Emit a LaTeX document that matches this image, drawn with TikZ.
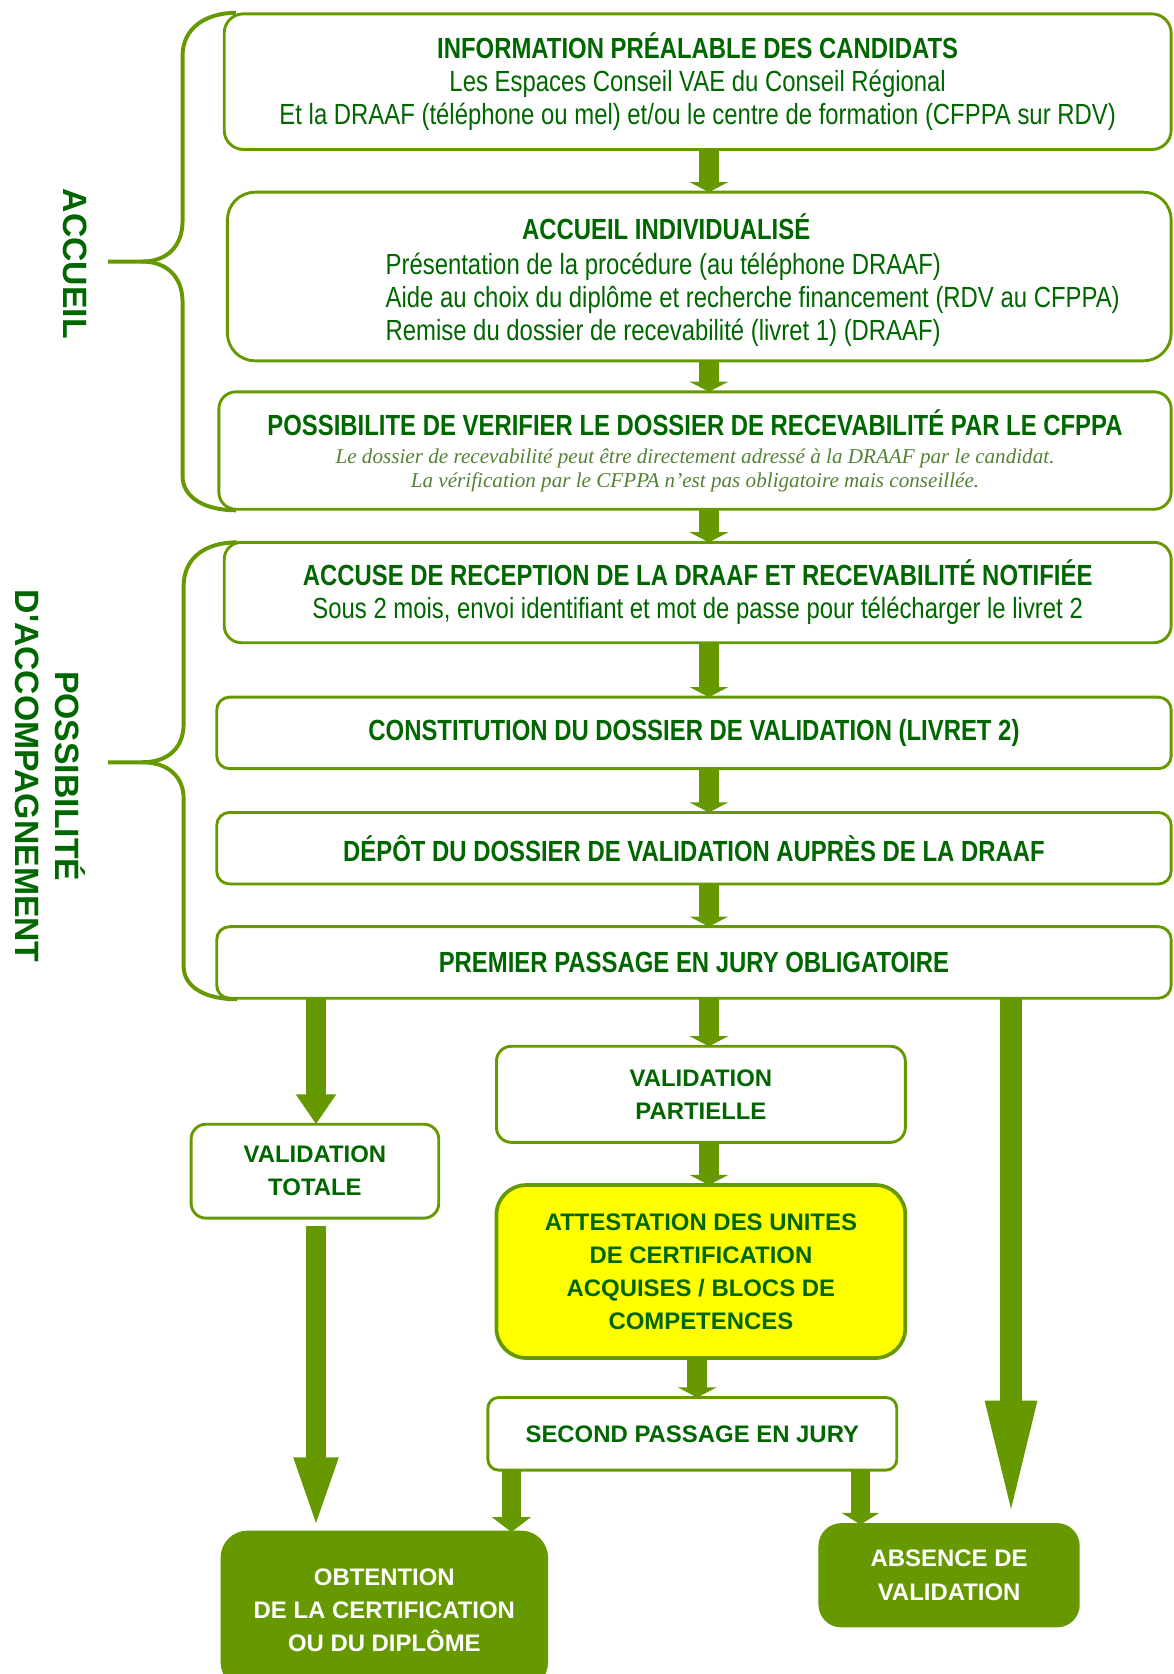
\documentclass[tikz,border=0pt]{standalone}
\usepackage{fontspec}
\setmainfont{Liberation Sans}
\newfontfamily\narrowfont{Liberation Sans}[FakeStretch=0.82]
\newfontfamily\notefont{Liberation Serif}
\usetikzlibrary{arrows.meta}
\definecolor{vaeolive}{RGB}{102,153,0}
\definecolor{vaedark}{RGB}{0,102,0}
\definecolor{vaenote}{RGB}{84,130,53}
\definecolor{vaeyellow}{RGB}{255,255,0}

\begin{document}
\begin{tikzpicture}[x=1pt,y=-1pt,
  boxtext/.style={text=vaedark, font=\narrowfont\fontsize{27.3}{31}\selectfont},
  box/.style={boxtext, draw=vaeolive, line width=2.7pt, rounded corners=16pt, fill=white, inner sep=0pt, outer sep=0pt, align=center, anchor=north west},
  smallbox/.style={box, font=\bfseries\fontsize{22.4}{31}\selectfont},
  endbox/.style={smallbox, fill=vaeolive, text=white},
  bigarrow/.style={draw=vaeolive, line width=19pt, -{Triangle[width=36pt,length=9.5pt]}},
  sidelabel/.style={text=vaedark, rotate=-90, align=center, font=\bfseries\fontsize{31.6}{37}\selectfont},
  brace/.style={draw=vaeolive, line width=3.7pt}]
  \useasboundingbox (0,0) rectangle (1099,1568);
  \clip (0,0) rectangle (1099,1568);
  \fill[white] (0,0) rectangle (1099,1568);

  % accueil
  \node[box, rounded corners=18pt, minimum width=887pt, minimum height=127pt] (info) at (210,13) {{\bfseries INFORMATION PRÉALABLE DES CANDIDATS}\\Les Espaces Conseil VAE du Conseil Régional\\Et la DRAAF (téléphone ou mel) et/ou le centre de formation (CFPPA sur RDV)};
  \node[box, rounded corners=26pt, minimum width=884pt, minimum height=158pt] (accind) at (213,180) {};
  \node[boxtext, anchor=base, font=\narrowfont\bfseries\fontsize{27.3}{31}\selectfont] (accindtitle) at (624,224) {ACCUEIL INDIVIDUALISÉ};
  \node[boxtext, anchor=west, align=left, inner sep=0pt] (accindlines) at (361,281) {Présentation de la procédure (au téléphone DRAAF)\\Aide au choix du diplôme et recherche financement (RDV au CFPPA)\\Remise du dossier de recevabilité (livret 1) (DRAAF)};
  \node[box, minimum width=892pt, minimum height=110pt, font=\narrowfont\fontsize{19.8}{22}\selectfont] (verif) at (205,367) {{\bfseries\fontsize{27.3}{31}\selectfont POSSIBILITE DE VERIFIER LE DOSSIER DE RECEVABILITÉ PAR LE CFPPA}\\[5pt]{\notefont\itshape\color{vaenote}Le dossier de recevabilité peut être directement adressé à la DRAAF par le candidat.}\\{\notefont\itshape\color{vaenote}La vérification par le CFPPA n’est pas obligatoire mais conseillée.}};

  % accompagnement
  \node[box, minimum width=887pt, minimum height=94pt] (accuse) at (210,508) {{\bfseries ACCUSE DE RECEPTION DE LA DRAAF ET RECEVABILITÉ NOTIFIÉE}\\Sous 2 mois, envoi identifiant et mot de passe pour télécharger le livret 2};
  \node[box, rounded corners=12pt, minimum width=894pt, minimum height=67pt] (constit) at (203,653) {\bfseries CONSTITUTION DU DOSSIER DE VALIDATION (LIVRET 2)};
  \node[box, rounded corners=12pt, minimum width=894pt, minimum height=67pt] (depot) at (203,761) {\bfseries DÉPÔT DU DOSSIER DE VALIDATION AUPRÈS DE LA DRAAF};
  \node[box, rounded corners=12pt, minimum width=894pt, minimum height=67pt] (premier) at (203,868) {\bfseries PREMIER PASSAGE EN JURY OBLIGATOIRE};

  % issues du jury
  \node[smallbox, rounded corners=14pt, minimum width=232pt, minimum height=88pt] (totale) at (179,1053) {VALIDATION\\TOTALE};
  \node[smallbox, rounded corners=14pt, minimum width=383pt, minimum height=90pt] (partielle) at (465,980) {VALIDATION\\PARTIELLE};
  \node[smallbox, fill=vaeyellow, line width=3.5pt, rounded corners=28pt, minimum width=383pt, minimum height=162pt] (attest) at (465,1110) {ATTESTATION DES UNITES\\DE CERTIFICATION\\ACQUISES / BLOCS DE\\COMPETENCES};
  \node[smallbox, rounded corners=10pt, minimum width=383pt, minimum height=68pt] (second) at (457,1309) {SECOND PASSAGE EN JURY};
  \node[endbox, rounded corners=24pt, minimum width=304pt, minimum height=146pt] (obtention) at (208,1435) {OBTENTION\\DE LA CERTIFICATION\\OU DU DIPLÔME};
  \node[endbox, rounded corners=20pt, minimum width=242pt, minimum height=95pt] (absence) at (768,1428) {ABSENCE DE\\VALIDATION};

  \node[sidelabel] (accueillbl) at (70,247) {ACCUEIL};
  \node[sidelabel] (accomplbl) at (47,727) {POSSIBILITÉ\\D\textquotesingle ACCOMPAGNEMENT};

  \draw[brace] (221,12) .. controls (192,12) and (171,27) .. (171,52) -- (171,207) .. controls (171,230) and (157,245) .. (133,245) -- (101,245);
  \draw[brace] (133,245) .. controls (157,245) and (171,260) .. (171,283) -- (171,446) .. controls (171,466) and (192,478) .. (221,478);
  \draw[brace] (222,508) .. controls (193,508) and (172,522) .. (172,549) -- (172,678) .. controls (172,700) and (158,714) .. (133,714) -- (101,714);
  \draw[brace] (133,714) .. controls (158,714) and (172,728) .. (172,748) -- (172,905) .. controls (172,925) and (193,936) .. (222,936);

  \coordinate (midcol) at (664,0);
  \coordinate (jurycol) at (653,0);
  \coordinate (leftcol) at (296,0);
  \coordinate (rightcol) at (947,0);
  \coordinate (obtcol) at (479,0);
  \coordinate (abscol) at (806,0);

  \draw[bigarrow] (info.south -| midcol) -- (accind.north -| midcol);
  \draw[bigarrow] (accind.south -| midcol) -- (verif.north -| midcol);
  \draw[bigarrow] (verif.south -| midcol) -- (accuse.north -| midcol);
  \draw[bigarrow] (accuse.south -| midcol) -- (constit.north -| midcol);
  \draw[bigarrow] (constit.south -| midcol) -- (depot.north -| midcol);
  \draw[bigarrow] (depot.south -| midcol) -- (premier.north -| midcol);
  \draw[bigarrow] (premier.south -| midcol) -- (partielle.north -| midcol);
  \draw[bigarrow] (partielle.south -| midcol) -- (attest.north -| midcol);
  \draw[bigarrow] (attest.south -| jurycol) -- (second.north -| jurycol);
  \draw[bigarrow, line width=18pt, -{Triangle[width=36pt,length=28pt]}] (premier.south -| leftcol) -- (totale.north -| leftcol);
  \draw[bigarrow, line width=18pt, shorten <=7pt, -{Triangle[width=36pt,length=70pt]}] (totale.south -| leftcol) -- (obtention.north -| leftcol);
  \draw[bigarrow, line width=21pt, -{Triangle[width=42pt,length=116pt]}] (premier.south -| rightcol) -- (absence.north -| rightcol);
  \draw[bigarrow, line width=18pt, -{Triangle[width=36pt,length=14pt]}] (second.south -| obtcol) -- (obtention.north -| obtcol);
  \draw[bigarrow, line width=17pt, -{Triangle[width=35pt,length=11pt]}] (second.south -| abscol) -- (absence.north -| abscol);
\end{tikzpicture}
\end{document}
